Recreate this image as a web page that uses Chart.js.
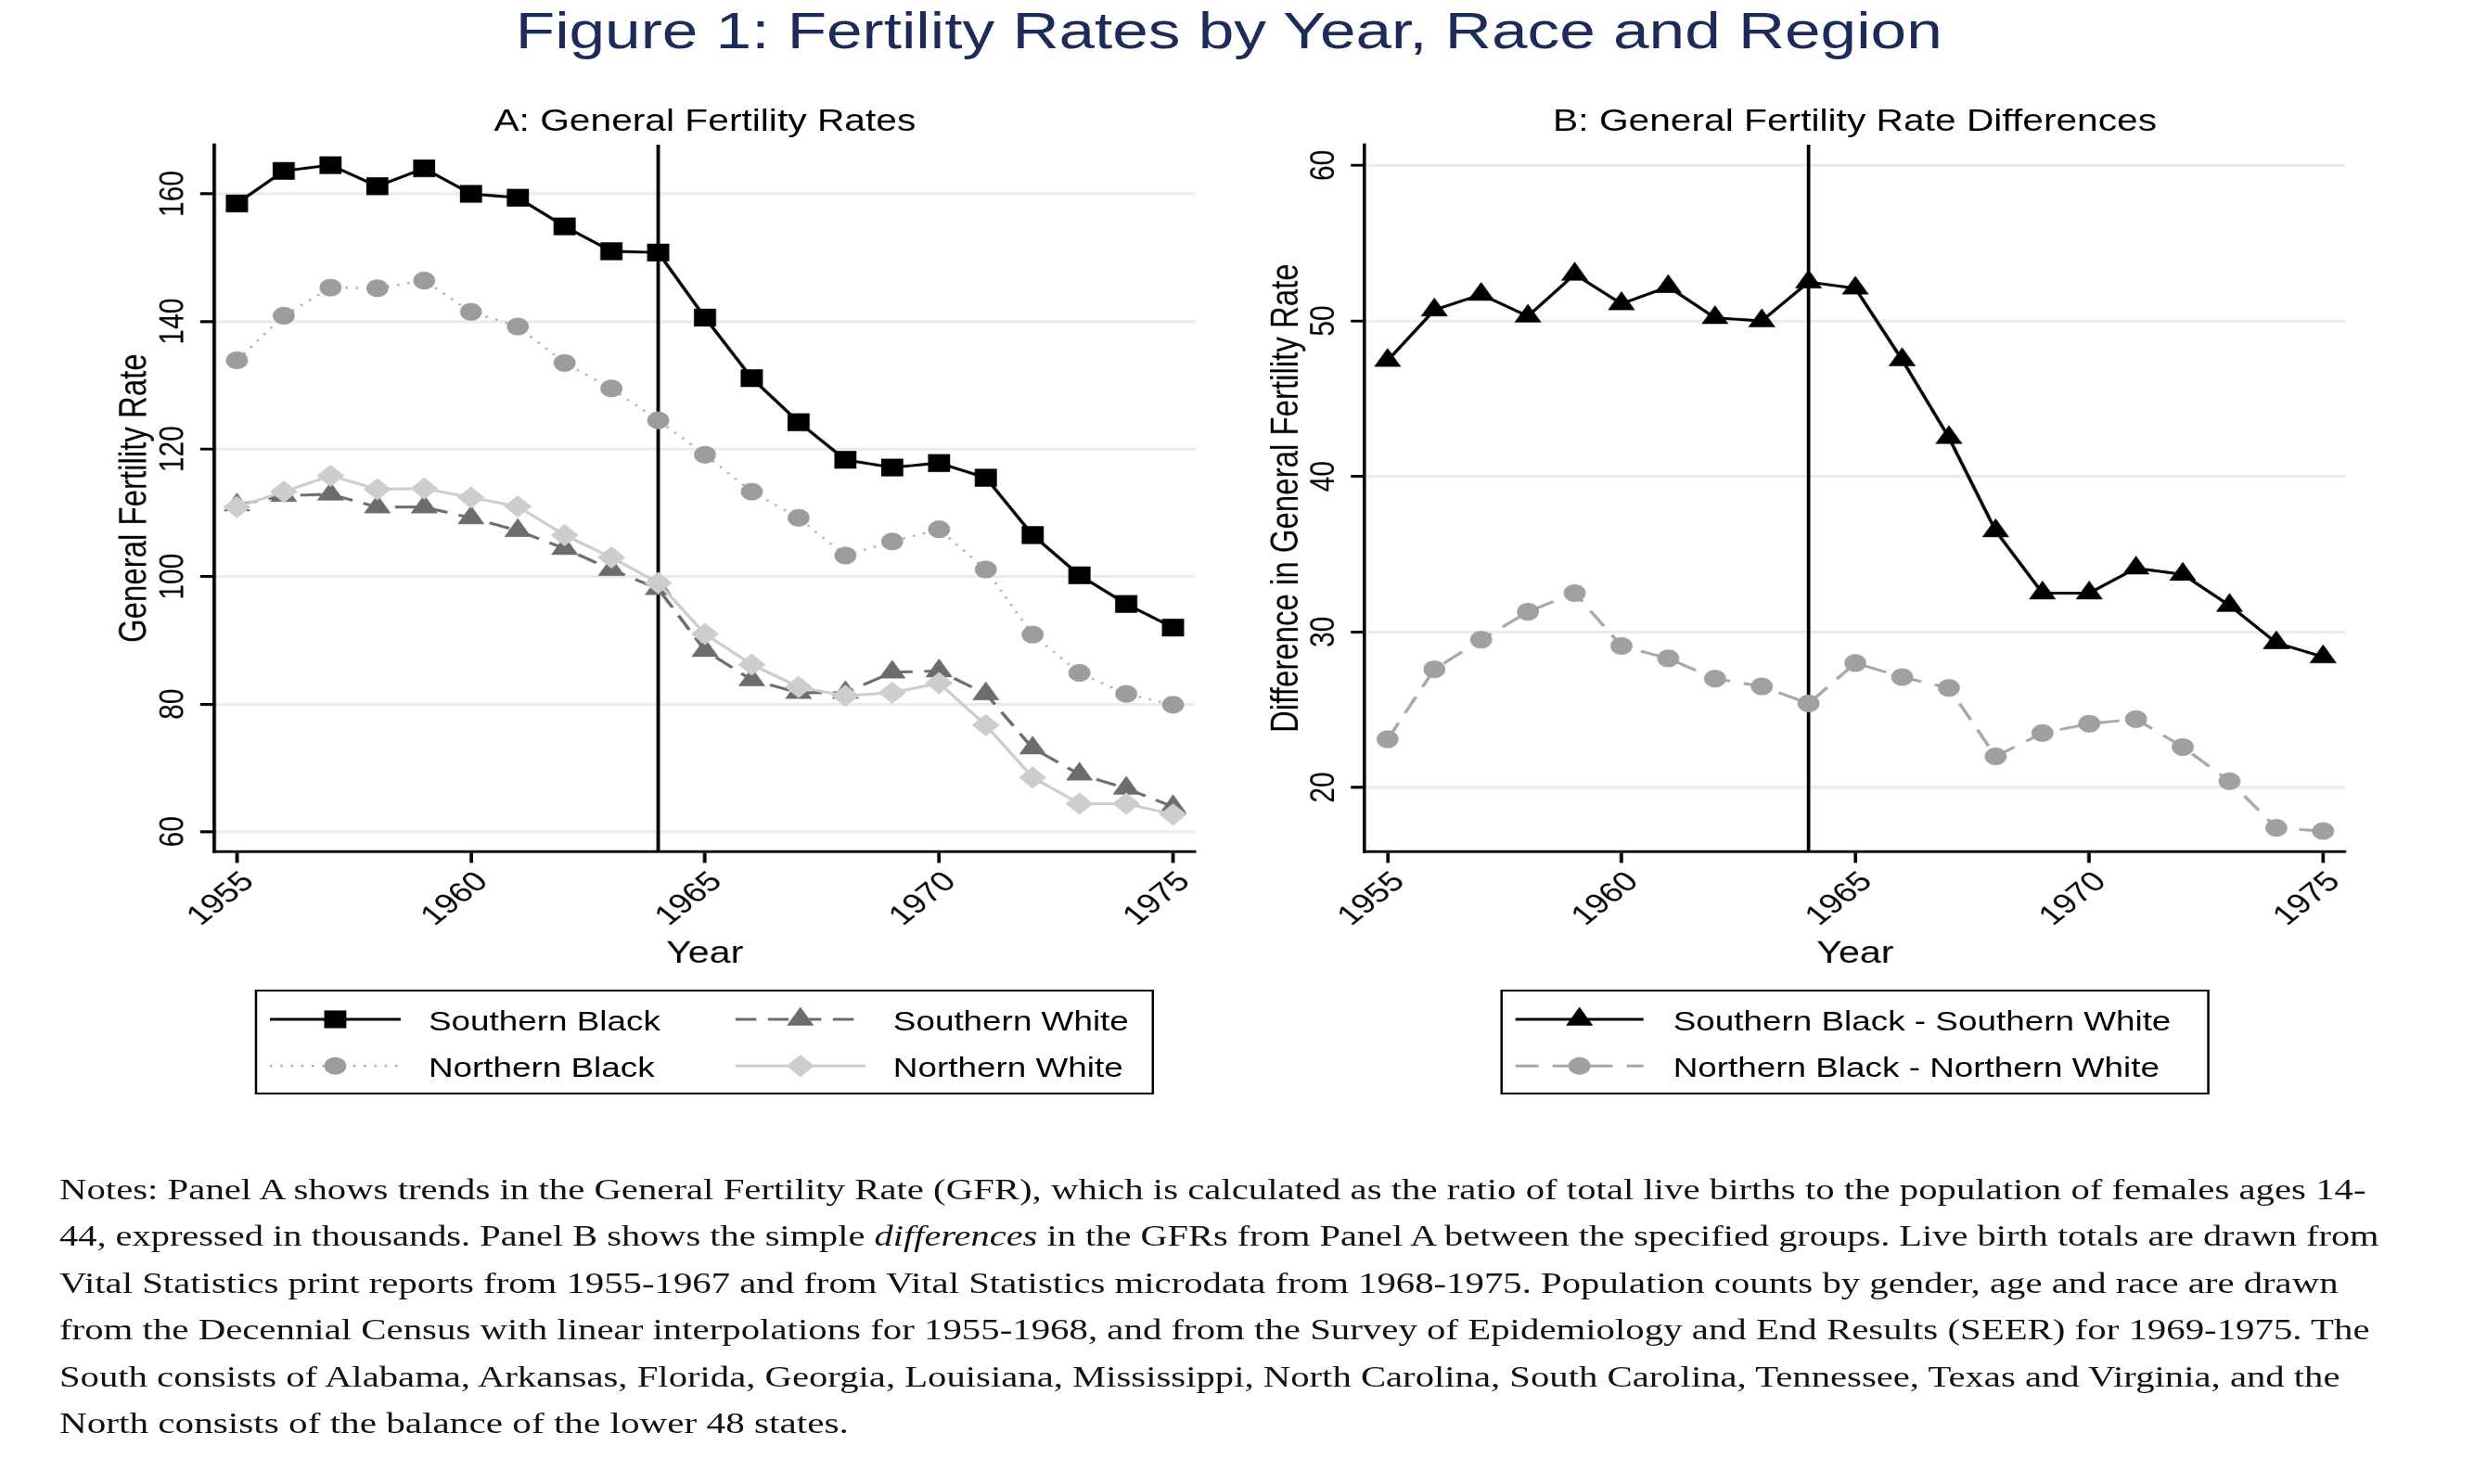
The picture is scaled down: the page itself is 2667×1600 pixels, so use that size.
<!DOCTYPE html>
<html>
<head>
<meta charset="utf-8">
<script src="https://cdn.jsdelivr.net/npm/chart.js@4.4.1/dist/chart.umd.min.js"></script>
<style>
html,body{margin:0;padding:0;background:#fff;overflow:hidden;width:2667px;height:1600px}
#wrap{position:absolute;left:0;top:0;width:2134px;height:1600px;transform-origin:0 0;transform:scaleX(1.24977)}
#wrap canvas{position:absolute;left:0;top:0}
#over{position:absolute;left:0;top:0}
</style>
</head>
<body>
<div id="wrap">
<canvas id="panelA" width="2134" height="1600" style="width:2134px;height:1600px"></canvas>
<canvas id="panelB" width="2134" height="1600" style="width:2134px;height:1600px"></canvas>
<svg id="over" width="2134" height="1600" viewBox="0 0 2134 1600" xmlns="http://www.w3.org/2000/svg" font-family="'Liberation Sans', Arial, sans-serif">
  <text x="1060" y="52" text-anchor="middle" font-size="55.5" fill="#1c2b5a">Figure 1: Fertility Rates by Year, Race and Region</text>
  <text x="608" y="141" text-anchor="middle" font-size="32.6" fill="#000">A: General Fertility Rates</text>
  <text x="1600" y="141" text-anchor="middle" font-size="32.6" fill="#000">B: General Fertility Rate Differences</text>
  <g id="legA"></g>
  <g id="legB"></g>
  <g id="notes" font-family="'Liberation Serif', 'Times New Roman', serif" font-size="32" fill="#111"></g>
</svg>
</div>
<script>
const FONT = "'Liberation Sans', Arial, sans-serif";

// data
const years = [1955,1956,1957,1958,1959,1960,1961,1962,1963,1964,1965,1966,1967,1968,1969,1970,1971,1972,1973,1974,1975];
const xTicks = [1955,1960,1965,1970,1975];
const yTicksA = [60,80,100,120,140,160];
const yTicksB = [20,30,40,50,60];
const policyYear = 1964;

const southernBlack = [158.5,163.6,164.5,161.2,164.0,160.0,159.4,154.9,151.0,150.8,140.6,131.1,124.2,118.3,117.1,117.8,115.5,106.5,100.2,95.7,92.0];
const northernBlack = [133.9,140.9,145.3,145.2,146.4,141.5,139.2,133.5,129.5,124.5,119.1,113.3,109.2,103.3,105.5,107.4,101.1,90.9,84.9,81.6,79.9];
const southernWhite = [111.2,112.7,112.9,110.9,110.9,109.2,107.2,104.4,101.1,98.1,88.4,83.8,81.8,81.8,85.0,85.2,81.6,73.1,69.0,66.8,63.9];
const northernWhite = [110.9,113.3,115.8,113.7,113.8,112.4,111.0,106.5,103.0,99.0,91.0,86.2,82.7,81.3,81.8,83.3,76.7,68.5,64.4,64.4,62.7];
const diffSouth = [47.45,50.7,51.7,50.3,53.0,51.1,52.2,50.2,50.0,52.5,52.1,47.5,42.5,36.5,32.5,32.5,34.1,33.7,31.7,29.3,28.4];
const diffNorth = [23.1,27.6,29.5,31.3,32.5,29.1,28.3,27.0,26.5,25.4,28.0,27.1,26.4,22.0,23.5,24.1,24.4,22.6,20.4,17.4,17.2];

const labelsA = ['Southern Black','Southern White','Northern Black','Northern White'];
const labelsB = ['Southern Black - Southern White','Northern Black - Northern White'];

// styles
const stSB = {color:'#000', line:'#000', width:3, dash:[], shape:'rect', r:13.5};
const stNB = {color:'#9c9c9c', line:'#b0b0b0', width:2.5, dash:[2,7], shape:'circle', r:9.5};
const stSW = {color:'#6c6c6c', line:'#6c6c6c', width:3, dash:[18,10], shape:'triangle', r:13.5};
const stNW = {color:'#cdcdcd', line:'#cdcdcd', width:3, dash:[], shape:'rectRot', r:12};
const stDS = {color:'#000', line:'#000', width:3, dash:[], shape:'triangle', r:13.5};
const stDN = {color:'#a0a0a0', line:'#a8a8a8', width:3, dash:[20,12], shape:'circle', r:9.5};

function series(label, vals, st, order){
  return {label, data:years.map((y,i)=>({x:y,y:vals[i]})), borderColor:st.line, borderWidth:st.width, borderDash:st.dash,
    pointStyle:st.shape, pointRadius:st.r, pointHoverRadius:st.r, pointBackgroundColor:st.color, pointBorderColor:st.color,
    pointBorderWidth:0, tension:0, fill:false, order};
}

const decor = {
  id:'decor',
  beforeDatasetsDraw(chart){
    const {ctx, chartArea:a, scales:{x}} = chart;
    const px = x.getPixelForValue(policyYear);
    ctx.save(); ctx.strokeStyle='#000'; ctx.lineWidth=3;
    ctx.beginPath(); ctx.moveTo(px,a.top); ctx.lineTo(px,a.bottom); ctx.stroke(); ctx.restore();
  },
  afterDraw(chart, args, opts){
    const {ctx, scales:{x,y}} = chart;
    ctx.save(); ctx.fillStyle='#000'; ctx.font=`30px ${FONT}`;
    ctx.textAlign='center'; ctx.textBaseline='middle';
    for(const v of opts.yTicks){
      const py=y.getPixelForValue(v);
      ctx.save(); ctx.translate(y.right-35, py); ctx.rotate(-Math.PI/2); ctx.fillText(String(v),0,0); ctx.restore();
    }
    ctx.textAlign='right';
    for(const v of xTicks){
      const px=x.getPixelForValue(v);
      ctx.save(); ctx.translate(px+10, x.top+27.7); ctx.rotate(-Math.PI/4); ctx.fillText(String(v),0,0); ctx.restore();
    }
    ctx.restore();
  }
};

function makeChart(id, datasets, o){
  return new Chart(document.getElementById(id), {
    type:'line',
    data:{datasets},
    options:{
      responsive:false, animation:false, devicePixelRatio:1.5,
      layout:{padding:{left:o.padLeft, top:156, right:o.padRight, bottom:0}},
      plugins:{legend:{display:false}, tooltip:{enabled:false}, decor:{yTicks:o.yTicks}},
      scales:{
        x:{type:'linear', min:1954.51, max:1975.48,
          afterBuildTicks:s=>{s.ticks=xTicks.map(v=>({value:v}));},
          afterFit:s=>{s.height=1600-918.3;},
          border:{display:true,color:'#000',width:3},
          grid:{drawOnChartArea:false, drawTicks:true, tickLength:12, tickColor:'#000', tickWidth:3},
          ticks:{display:false},
          title:{display:true, text:'Year', color:'#000', font:{family:FONT,size:33}, padding:{top:0,bottom:551}}
        },
        y:{type:'linear', min:o.yMin, max:o.yMax,
          afterBuildTicks:s=>{s.ticks=o.yTicks.map(v=>({value:v}));},
          afterFit:s=>{s.width=o.yWidth;},
          border:{display:true,color:'#000',width:3},
          grid:{color:'#e6edf0', lineWidth:3, drawTicks:true, tickLength:12, tickColor:'#000', tickWidth:3},
          ticks:{display:false},
          title:{display:true, text:o.yTitle, color:'#000', font:{family:FONT,size:33}, padding:{top:o.titlePad,bottom:0}}
        }
      }
    },
    plugins:[decor]
  });
}

makeChart('panelA', [
  series(labelsA[0], southernBlack, stSB, 4),
  series(labelsA[2], northernBlack, stNB, 3),
  series(labelsA[1], southernWhite, stSW, 2),
  series(labelsA[3], northernWhite, stNW, 1)
], {padLeft:0, padRight:2134-1031.2, yWidth:184.6, yMin:56.86, yMax:167.71, yTicks:yTicksA, yTitle:'General Fertility Rate', titlePad:97});

makeChart('panelB', [
  series(labelsB[0], diffSouth, stDS, 2),
  series(labelsB[1], diffNorth, stDN, 1)
], {padLeft:1000, padRight:2134-2023.2, yWidth:177.1, yMin:15.87, yMax:61.33, yTicks:yTicksB, yTitle:'Difference in General Fertility Rate', titlePad:90.6});

// legends
const NS='http://www.w3.org/2000/svg';
function el(tag, attrs, parent){const e=document.createElementNS(NS,tag);for(const k in attrs)e.setAttribute(k,attrs[k]);parent.appendChild(e);return e;}
function marker(g, cx, cy, st){
  const r=st.r;
  if(st.shape==='rect'){const s=r*Math.SQRT2;el('rect',{x:cx-s/2,y:cy-s/2,width:s,height:s,fill:st.color},g);}
  else if(st.shape==='circle'){el('circle',{cx,cy,r,fill:st.color},g);}
  else if(st.shape==='triangle'){el('polygon',{points:`${cx},${cy-r} ${cx+0.866*r},${cy+0.5*r} ${cx-0.866*r},${cy+0.5*r}`,fill:st.color},g);}
  else {el('polygon',{points:`${cx-r},${cy} ${cx},${cy-r} ${cx+r},${cy} ${cx},${cy+r}`,fill:st.color},g);}
}
function entry(g, x0, x1, tx, row, st, label){
  const ly=[1099,1149.3][row], ty=[1111,1161.5][row];
  el('line',{x1:x0,y1:ly,x2:x1,y2:ly,stroke:st.line,'stroke-width':st.width,'stroke-dasharray':st.dash.length?st.dash.join(' '):'none'},g);
  marker(g,(x0+x1)/2,ly,st);
  const t=el('text',{x:tx,y:ty,'font-size':29.5,fill:'#000'},g); t.textContent=label;
}
const gA=document.getElementById('legA');
el('rect',{x:220.8,y:1068,width:773.6,height:111,fill:'#fff',stroke:'#000','stroke-width':2},gA);
entry(gA,232.8,345.6,369.6,0,stSB,labelsA[0]);
entry(gA,634.4,746.4,770.4,0,stSW,labelsA[1]);
entry(gA,232.8,345.6,369.6,1,stNB,labelsA[2]);
entry(gA,634.4,746.4,770.4,1,stNW,labelsA[3]);
const gB=document.getElementById('legB');
el('rect',{x:1295.2,y:1068,width:609.6,height:111,fill:'#fff',stroke:'#000','stroke-width':2},gB);
entry(gB,1307.2,1417.6,1443.2,0,stDS,labelsB[0]);
entry(gB,1307.2,1417.6,1443.2,1,stDN,labelsB[1]);

// notes
const noteLines = [
  ['Notes: Panel A shows trends in the General Fertility Rate (GFR), which is calculated as the ratio of total live births to the population of females ages 14-'],
  ['44, expressed in thousands. Panel B shows the simple ', {i:'differences'}, ' in the GFRs from Panel A between the specified groups. Live birth totals are drawn from'],
  ['Vital Statistics print reports from 1955-1967 and from Vital Statistics microdata from 1968-1975. Population counts by gender, age and race are drawn'],
  ['from the Decennial Census with linear interpolations for 1955-1968, and from the Survey of Epidemiology and End Results (SEER) for 1969-1975. The'],
  ['South consists of Alabama, Arkansas, Florida, Georgia, Louisiana, Mississippi, North Carolina, South Carolina, Tennessee, Texas and Virginia, and the'],
  ['North consists of the balance of the lower 48 states.']
];
const noteWidths = [1989.6,2000.8,1965.6,1992.8,1967.2,680.8];
const gN=document.getElementById('notes');
noteLines.forEach((parts,i)=>{
  const t=el('text',{x:51.2,y:1293+i*50.4,textLength:noteWidths[i],lengthAdjust:'spacingAndGlyphs'},gN);
  for(const p of parts){
    const s=el('tspan',{},t);
    if(typeof p==='string'){s.textContent=p;} else {s.setAttribute('font-style','italic');s.textContent=p.i;}
  }
});
</script>
</body>
</html>
